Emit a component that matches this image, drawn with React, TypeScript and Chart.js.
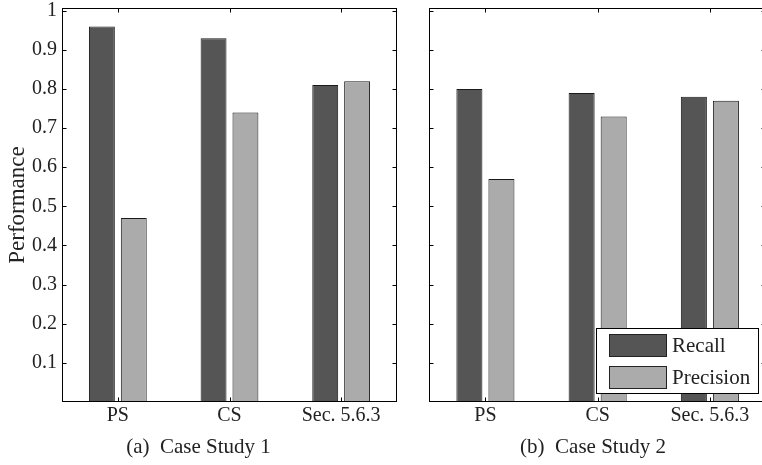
import React, { useEffect, useRef } from 'react';
import { Chart, registerables } from 'chart.js';

Chart.register(...registerables);

// ---- data ----
const categories = ['PS', 'CS', 'Sec. 5.6.3'];
const seriesLabels = ['Recall', 'Precision'];
const recallCase1 = [0.96, 0.93, 0.81];
const precisionCase1 = [0.47, 0.74, 0.82];
const recallCase2 = [0.8, 0.79, 0.78];
const precisionCase2 = [0.57, 0.73, 0.77];
const yTickValues = [0.1, 0.2, 0.3, 0.4, 0.5, 0.6, 0.7, 0.8, 0.9, 1.0];
const yAxisTitle = 'Performance';
const panelTitles = ['(a)  Case Study 1', '(b)  Case Study 2'];

const FONT = "'Liberation Serif', 'Times New Roman', serif";
const TEXT = '#222222';
const DARK = '#555555';
const LIGHT = '#ababab';

const boxPlugin = {
  id: 'matlabBox',
  afterDatasetsDraw(chart: any) {
    const { ctx, chartArea: a, scales } = chart;
    const xs = scales.x;
    const ys = scales.y;
    const L = Math.round(a.left) + 0.5;
    const R = Math.round(a.right) - 0.5;
    const T = Math.round(a.top) + 0.5;
    const B = Math.round(a.bottom) - 0.5;
    ctx.save();
    ctx.strokeStyle = '#000';
    ctx.lineWidth = 1;
    ctx.beginPath();
    yTickValues.forEach((v) => {
      const py = Math.round(ys.getPixelForValue(v)) + 0.5;
      ctx.moveTo(L, py);
      ctx.lineTo(L + 4, py);
      ctx.moveTo(R, py);
      ctx.lineTo(R - 4, py);
    });
    categories.forEach((_, i) => {
      const px = Math.round(xs.getPixelForValue(i)) + 0.5;
      ctx.moveTo(px, T);
      ctx.lineTo(px, T + 4);
      ctx.moveTo(px, B);
      ctx.lineTo(px, B - 4);
    });
    ctx.stroke();
    ctx.strokeRect(L, T, R - L, B - T);
    ctx.restore();
  },
};

const legendPlugin = {
  id: 'boxLegend',
  afterDraw(chart: any) {
    if (!chart.options.plugins.boxLegend?.show) return;
    const { ctx, chartArea: a } = chart;
    const w = 163;
    const h = 66;
    const right = 759 - 420;
    const bottom = Math.round(a.bottom) - 8;
    const left = right - w;
    const top = bottom - h;
    ctx.save();
    ctx.fillStyle = '#ffffff';
    ctx.fillRect(left, top, w, h);
    ctx.strokeStyle = '#000';
    ctx.lineWidth = 1;
    ctx.strokeRect(left + 0.5, top + 0.5, w - 1, h - 1);
    ctx.font = `21px ${FONT}`;
    ctx.textBaseline = 'middle';
    ctx.textAlign = 'left';
    chart.data.datasets.forEach((ds: any, i: number) => {
      const sy = top + 6 + i * 32;
      ctx.fillStyle = ds.backgroundColor;
      ctx.fillRect(left + 13, sy, 58, 23);
      ctx.strokeStyle = '#222';
      ctx.strokeRect(left + 13.5, sy + 0.5, 57, 22);
      ctx.fillStyle = TEXT;
      ctx.fillText(ds.label, left + 76, sy + 12);
    });
    ctx.restore();
  },
};

type PanelProps = {
  left: number;
  width: number;
  recall: number[];
  precision: number[];
  title: string;
  showYLabels: boolean;
  yAxisWidth: number;
  padRight: number;
  showLegend: boolean;
};

function Panel(p: PanelProps) {
  const ref = useRef<HTMLCanvasElement | null>(null);
  useEffect(() => {
    if (!ref.current) return;
    const chart = new Chart(ref.current, {
      type: 'bar',
      data: {
        labels: categories,
        datasets: [
          {
            label: seriesLabels[0],
            data: p.recall,
            backgroundColor: DARK,
            borderColor: '#1a1a1a',
            borderWidth: 1,
            categoryPercentage: 0.571,
            barPercentage: 0.8125,
          },
          {
            label: seriesLabels[1],
            data: p.precision,
            backgroundColor: LIGHT,
            borderColor: '#1a1a1a',
            borderWidth: 1,
            categoryPercentage: 0.571,
            barPercentage: 0.8125,
          },
        ],
      },
      options: {
        animation: false,
        responsive: true,
        maintainAspectRatio: false,
        layout: { padding: { left: 0, top: 8, right: p.padRight, bottom: 5 } },
        plugins: {
          legend: { display: false },
          tooltip: { enabled: false },
          title: {
            display: true,
            position: 'bottom',
            text: p.title,
            color: TEXT,
            font: { family: FONT, size: 21, weight: 'normal' },
            padding: { top: 0, bottom: 0 },
          },
          boxLegend: { show: p.showLegend },
        } as any,
        scales: {
          x: {
            grid: { display: false, drawTicks: false },
            border: { display: false },
            ticks: {
              color: TEXT,
              padding: 2,
              font: { family: FONT, size: 20 },
              maxRotation: 0,
            },
            afterFit: (s: any) => {
              s.height = 32.8;
              s.paddingLeft = 0;
              s.paddingRight = 0;
            },
          },
          y: {
            min: 0,
            max: 1.007,
            grid: { display: false, drawTicks: false },
            border: { display: false },
            afterBuildTicks: (s: any) => {
              s.ticks = yTickValues.map((v) => ({ value: v }));
            },
            ticks: {
              display: p.showYLabels,
              color: TEXT,
              padding: 5,
              font: { family: FONT, size: 20 },
              callback: (v: any) => (Number(v) === 1 ? '1' : Number(v).toFixed(1)),
            },
            title: {
              display: p.showYLabels,
              text: yAxisTitle,
              color: TEXT,
              font: { family: FONT, size: 23 },
              padding: { top: 4, bottom: 0 },
            },
            afterFit: (s: any) => {
              s.width = p.yAxisWidth;
              s.paddingTop = 0;
              s.paddingBottom = 0;
            },
          },
        },
      },
      plugins: [boxPlugin, legendPlugin],
    });
    return () => chart.destroy();
  }, []);
  return (
    <div style={{ position: 'absolute', left: p.left, top: 0, width: p.width, height: 465 }}>
      <canvas ref={ref} />
    </div>
  );
}

export default function App() {
  return (
    <div
      style={{
        position: 'absolute',
        left: 0,
        top: 0,
        width: 762,
        height: 465,
        overflow: 'hidden',
        background: '#ffffff',
      }}
    >
      <Panel
        left={0}
        width={415}
        recall={recallCase1}
        precision={precisionCase1}
        title={panelTitles[0]}
        showYLabels={true}
        yAxisWidth={62}
        padRight={18}
        showLegend={false}
      />
      <Panel
        left={420}
        width={350}
        recall={recallCase2}
        precision={precisionCase2}
        title={panelTitles[1]}
        showYLabels={false}
        yAxisWidth={9.3}
        padRight={4}
        showLegend={true}
      />
    </div>
  );
}
